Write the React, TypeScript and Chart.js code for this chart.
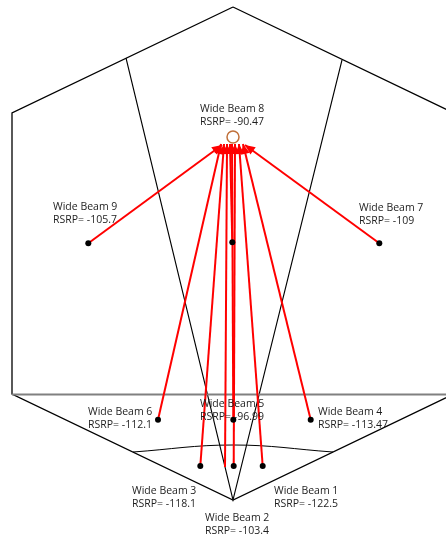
import React, { useEffect, useRef } from 'react';
import { Chart, registerables } from 'chart.js';

Chart.register(...registerables);

// Beam labels and measured RSRP values
const beamNames = ['Wide Beam 1', 'Wide Beam 2', 'Wide Beam 3', 'Wide Beam 4', 'Wide Beam 5', 'Wide Beam 6', 'Wide Beam 7', 'Wide Beam 8', 'Wide Beam 9'];
const rsrpValues = ['-122.5', '-103.4', '-118.1', '-113.47', '-96.99', '-112.1', '-109', '-90.47', '-105.7'];

// Measurement positions (plot units)
const beamX = [262.7, 233.7, 200.3, 310.7, 233.3, 158, 379.3, 232.3, 88.3];
const beamY = [466, 466, 466, 419.7, 419.7, 419.7, 243.3, 242.3, 243.3];

// Arrow tips (towards the serving site)
const tipX = [239, 235, 224, 243, 232, 221, 245, 230, 222];
const tipY = [144, 144, 144, 144, 144, 144, 145, 144, 145];

// Extra ray without a marker
const extraFromX = [225];
const extraFromY = [467];
const extraTipX = [227];
const extraTipY = [144];

// Label anchor (left x, first-line centre y)
const labelX = [274, 205, 132, 318, 200, 88, 359, 200, 53];
const labelY = [491, 518, 491, 412, 404, 412, 208, 109, 207];

// Serving site marker
const siteX = [233];
const siteY = [137];

// Cell outline
const hexX = [233, 12, 12, 233, 454, 454, 233];
const hexY = [7, 113, 394, 500, 394, 113, 7];
const sectorX = [126, 233, 342];
const sectorY = [58, 500, 60];
const dividerX = [12, 446];
const dividerY = [394.5, 394.5];
const arcX = [133, 233, 333];
const arcY = [452, 445, 452];

const pts = (xs: number[], ys: number[]) => xs.map((x, i) => ({ x, y: ys[i] }));

const arrowLabelPlugin = {
  id: 'arrowLabel',
  afterDatasetsDraw(chart: any) {
    const ctx = chart.ctx;
    const xs = chart.scales.x;
    const ys = chart.scales.y;
    const drawHead = (fx: number, fy: number, tx: number, ty: number) => {
      const x0 = xs.getPixelForValue(fx);
      const y0 = ys.getPixelForValue(fy);
      const x1 = xs.getPixelForValue(tx);
      const y1 = ys.getPixelForValue(ty);
      const a = Math.atan2(y1 - y0, x1 - x0);
      const len = 10;
      const hw = 4.5;
      const bx = x1 - len * Math.cos(a);
      const by = y1 - len * Math.sin(a);
      ctx.beginPath();
      ctx.moveTo(x1, y1);
      ctx.lineTo(bx + hw * Math.sin(a), by - hw * Math.cos(a));
      ctx.lineTo(bx - hw * Math.sin(a), by + hw * Math.cos(a));
      ctx.closePath();
      ctx.fillStyle = '#FF0000';
      ctx.fill();
    };
    ctx.save();
    beamX.forEach((bx, i) => drawHead(bx, beamY[i], tipX[i], tipY[i]));
    extraFromX.forEach((fx, i) => drawHead(fx, extraFromY[i], extraTipX[i], extraTipY[i]));
    ctx.font = '10.5px "Open Sans"';
    ctx.fillStyle = '#1e1e1e';
    ctx.textBaseline = 'middle';
    ctx.textAlign = 'left';
    beamNames.forEach((name, i) => {
      const px = xs.getPixelForValue(labelX[i]);
      const py = ys.getPixelForValue(labelY[i]);
      ctx.fillText(name, px, py);
      ctx.fillText('RSRP= ' + rsrpValues[i], px, py + 13.5);
    });
    ctx.restore();
  },
};

export default function App() {
  const ref = useRef<HTMLCanvasElement>(null);
  useEffect(() => {
    if (!ref.current) return;
    const lineDs = (data: any[], color: string, width: number, order: number, extra: any = {}) => ({
      type: 'scatter',
      data,
      showLine: true,
      borderColor: color,
      borderWidth: width,
      pointRadius: 0,
      pointHoverRadius: 0,
      fill: false,
      order,
      ...extra,
    });
    const datasets: any[] = [
      lineDs(pts(hexX, hexY), '#000000', 1.3, 5),
      lineDs(pts(sectorX, sectorY), '#000000', 1.1, 5),
      lineDs(pts(arcX, arcY), '#000000', 1, 5, { tension: 0.4 }),
      lineDs(pts(dividerX, dividerY), '#808080', 2, 4),
    ];
    beamX.forEach((bx, i) => {
      datasets.push(lineDs(pts([bx, tipX[i]], [beamY[i], tipY[i]]), '#FF0000', 2, 2));
    });
    extraFromX.forEach((fx, i) => {
      datasets.push(lineDs(pts([fx, extraTipX[i]], [extraFromY[i], extraTipY[i]]), '#FF0000', 2, 2));
    });
    datasets.push({
      type: 'scatter',
      data: pts(siteX, siteY),
      pointRadius: 6,
      pointBackgroundColor: '#FFFFFF',
      pointBorderColor: '#C0703A',
      pointBorderWidth: 1.5,
      order: 3,
    });
    datasets.push({
      type: 'scatter',
      data: pts(beamX, beamY),
      pointRadius: 3,
      pointBackgroundColor: '#000000',
      pointBorderColor: '#000000',
      pointBorderWidth: 0,
      order: 0,
    });
    const chart = new Chart(ref.current, {
      type: 'scatter',
      data: { datasets },
      options: {
        animation: false,
        responsive: false,
        maintainAspectRatio: false,
        devicePixelRatio: 1,
        layout: { padding: 0, autoPadding: false },
        events: [],
        scales: {
          x: { type: 'linear', min: 0, max: 446, display: false },
          y: { type: 'linear', min: 0, max: 540, reverse: true, display: false },
        },
        plugins: { legend: { display: false }, tooltip: { enabled: false } },
      },
      plugins: [arrowLabelPlugin],
    } as any);
    return () => chart.destroy();
  }, []);
  return (
    <div style={{ position: 'absolute', left: 0, top: 0, width: 446, height: 540, background: '#fff' }}>
      <canvas ref={ref} width={446} height={540} style={{ width: 446, height: 540 }} />
    </div>
  );
}
